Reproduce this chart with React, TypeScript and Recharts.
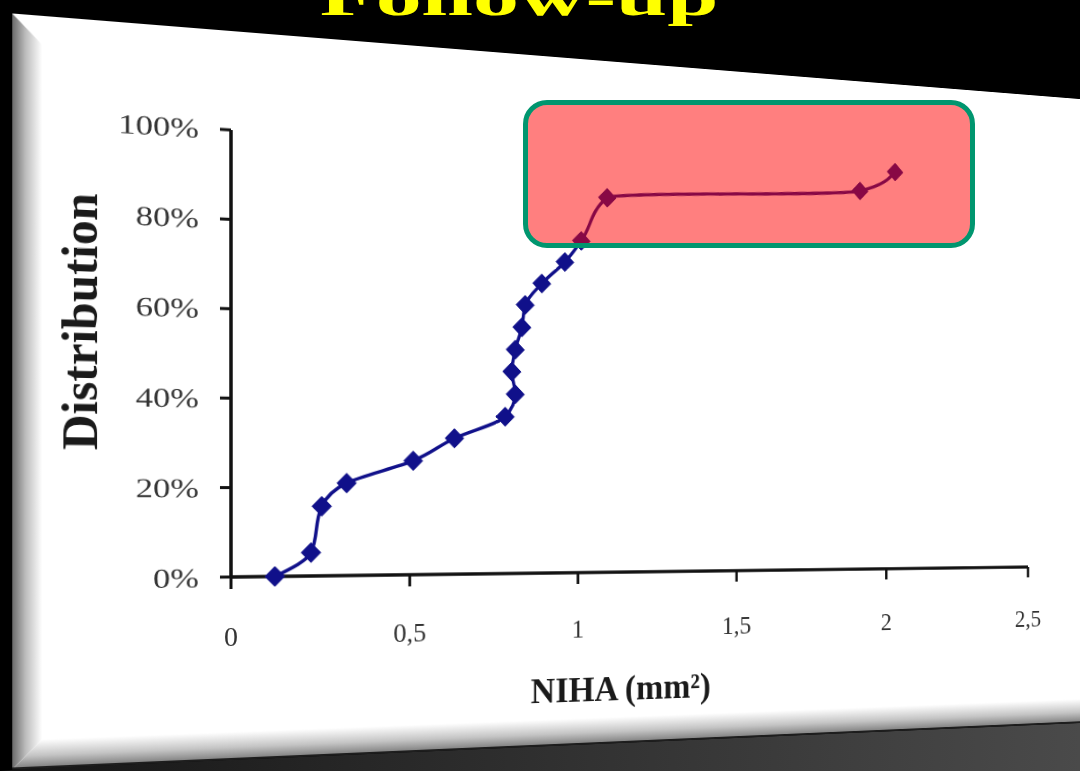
import React from 'react';
import { LineChart, Line, XAxis, YAxis, Label } from 'recharts';

// ---------- data ----------
const nihaValues = [0.12, 0.22, 0.25, 0.32, 0.51, 0.63, 0.78, 0.81, 0.8, 0.81, 0.83, 0.84, 0.89, 0.96, 1.01, 1.09, 1.91, 2.03];
const distributionValues = [0, 5.3, 15.8, 21.1, 26.3, 31.6, 36.8, 42.1, 47.4, 52.6, 57.9, 63.2, 68.4, 73.7, 78.9, 89.5, 94.7, 100];
const xTicks = [0, 0.5, 1, 1.5, 2, 2.5];
const xTickLabels = ['0', '0,5', '1', '1,5', '2', '2,5'];
const yTicks = [0, 20, 40, 60, 80, 100];
const yTickLabels = ['0%', '20%', '40%', '60%', '80%', '100%'];
const slideTitle = 'Follow-up';
const xAxisTitle = 'NIHA (mm²)';
const yAxisTitle = 'Distribution';

const data = nihaValues.map((x, i) => ({ niha: x, dist: distributionValues[i] }));

// ---------- layout / style ----------
const SERIF = "'Liberation Serif', 'Times New Roman', serif";
const NAVY = '#10108a';
const AXIS = '#111';
const SCREEN_W = 1080;
const SCREEN_H = 771;
const FLAT_W = 1340;
const FLAT_H = 800;
const CHART_W = 1200;
const CHART_H = 771;
const MARGIN = { top: 130, right: 47, bottom: 0, left: 0 };
const PLOT_L = MARGIN.left + 231;
const PLOT_T = MARGIN.top;
const PLOT_R = CHART_W - MARGIN.right;
const PLOT_B = 577;
// where the plot corners sit on the tilted slide (perspective calibration)
const SCREEN_CORNERS = [
  [231, 130],
  [1028, 180.5],
  [231, 577],
  [1028, 567],
];

function solveLinear(A: number[][], b: number[]): number[] {
  const n = b.length;
  const M = A.map((r, i) => [...r, b[i]]);
  for (let c = 0; c < n; c++) {
    let p = c;
    for (let r = c + 1; r < n; r++) if (Math.abs(M[r][c]) > Math.abs(M[p][c])) p = r;
    const tmp = M[c];
    M[c] = M[p];
    M[p] = tmp;
    for (let r = 0; r < n; r++) {
      if (r === c) continue;
      const f = M[r][c] / M[c][c];
      for (let k = c; k <= n; k++) M[r][k] -= f * M[c][k];
    }
  }
  return M.map((r, i) => r[n] / r[i]);
}

function homographyMatrix3d(src: number[][], dst: number[][]): string {
  const A: number[][] = [];
  const B: number[] = [];
  for (let i = 0; i < 4; i++) {
    const [x, y] = src[i];
    const [u, v] = dst[i];
    A.push([x, y, 1, 0, 0, 0, -u * x, -u * y]);
    B.push(u);
    A.push([0, 0, 0, x, y, 1, -v * x, -v * y]);
    B.push(v);
  }
  const [a, b, c, d, e, f, g, h] = solveLinear(A, B);
  return `matrix3d(${a},${d},0,${g},${b},${e},0,${h},0,0,1,0,${c},${f},0,1)`;
}

const FLAT_CORNERS = [
  [PLOT_L, PLOT_T],
  [PLOT_R, PLOT_T],
  [PLOT_L, PLOT_B],
  [PLOT_R, PLOT_B],
];
const SLIDE_TRANSFORM = homographyMatrix3d(FLAT_CORNERS, SCREEN_CORNERS);

const XTick = (props: any) => {
  const { x, y, payload } = props;
  const i = xTicks.indexOf(payload.value);
  return (
    <text x={x} y={y} dy="0.71em" textAnchor="middle" fontSize={28} fill="#333" fontFamily={SERIF}>
      {i >= 0 ? xTickLabels[i] : String(payload.value)}
    </text>
  );
};

const YTick = (props: any) => {
  const { x, y, payload } = props;
  const i = yTicks.indexOf(payload.value);
  return (
    <g transform={`translate(${x},${y}) scale(1.25,1)`}>
      <text x={0} y={0} dy="0.36em" textAnchor="end" fontSize={27} fill="#333" fontFamily={SERIF}>
        {i >= 0 ? yTickLabels[i] : String(payload.value)}
      </text>
    </g>
  );
};

const renderDot = (p: any) => {
  const { cx, cy, index } = p;
  if (cx == null || cy == null) return <g key={`dot-${index}`} />;
  const r = 10;
  return (
    <polygon
      key={`dot-${index}`}
      points={`${cx},${cy - r} ${cx + r},${cy} ${cx},${cy + r} ${cx - r},${cy}`}
      fill={NAVY}
      stroke={NAVY}
      strokeWidth={1}
    />
  );
};

const XTitle = (p: any) => {
  const vb = p.viewBox || {};
  return (
    <text
      x={vb.x + vb.width * 0.4545}
      y={vb.y + 137}
      textAnchor="middle"
      fontSize={38}
      fontWeight="bold"
      fill="#1a1a1a"
      fontFamily={SERIF}
    >
      {xAxisTitle}
    </text>
  );
};

const YTitle = (p: any) => {
  const vb = p.viewBox || {};
  const cx = vb.x + 100;
  const cy = vb.y + 196;
  return (
    <text
      transform={`translate(${cx},${cy}) rotate(-90)`}
      x={0}
      y={0}
      textAnchor="middle"
      fontSize={48}
      fontWeight="bold"
      fill="#1a1a1a"
      fontFamily={SERIF}
    >
      {yAxisTitle}
    </text>
  );
};

export default function App() {
  return (
    <div
      style={{
        position: 'absolute',
        left: 0,
        top: 0,
        width: SCREEN_W,
        height: SCREEN_H,
        overflow: 'hidden',
        background: '#000',
      }}
    >
      {/* background: floor + title */}
      <svg width={SCREEN_W} height={SCREEN_H} style={{ position: 'absolute', left: 0, top: 0 }}>
        <defs>
          <linearGradient id="floorGrad" x1="0" y1="0" x2="1" y2="0">
            <stop offset="0%" stopColor="#151515" />
            <stop offset="100%" stopColor="#4a4a4a" />
          </linearGradient>
        </defs>
        <rect x={0} y={0} width={SCREEN_W} height={SCREEN_H} fill="#000" />
        <polygon points="0,771 22,769 1080,723 1080,771" fill="url(#floorGrad)" />
        <text
          transform="translate(519,15) scale(1.15,0.65)"
          x={0}
          y={0}
          textAnchor="middle"
          fontSize={80}
          fontWeight="bold"
          fill="#ffff00"
          fontFamily={SERIF}
        >
          {slideTitle}
        </text>
      </svg>

      {/* tilted slide with the chart */}
      <div
        style={{
          position: 'absolute',
          left: 0,
          top: 0,
          width: FLAT_W,
          height: FLAT_H,
          transformOrigin: '0 0',
          transform: SLIDE_TRANSFORM,
        }}
      >
        <div
          style={{
            position: 'absolute',
            left: 20,
            top: 31,
            width: 1300,
            height: 729,
            background: '#fff',
          }}
        >
          <div
            style={{
              position: 'absolute',
              left: 0,
              top: 0,
              width: 28,
              height: '100%',
              background: 'linear-gradient(to right, #6a6a6a, #bdbdbd 45%, #ffffff)',
              clipPath: 'polygon(0 0, 100% 28px, 100% calc(100% - 28px), 0 100%)',
            }}
          />
          <div
            style={{
              position: 'absolute',
              left: 0,
              bottom: 0,
              width: '100%',
              height: 28,
              background: 'linear-gradient(to bottom, #ffffff, #c4c4c4 55%, #7a7a7a)',
              clipPath: 'polygon(0 100%, 28px 0, 100% 0, 100% 100%)',
            }}
          />
          <div
            style={{
              position: 'absolute',
              left: 0,
              bottom: 0,
              width: '100%',
              height: 2,
              background: '#1e1e1e',
            }}
          />
        </div>
        <div style={{ position: 'absolute', left: 0, top: 0 }}>
          <LineChart width={CHART_W} height={CHART_H} data={data} margin={MARGIN}>
            <XAxis
              type="number"
              dataKey="niha"
              domain={[0, 2.5]}
              ticks={xTicks}
              interval={0}
              height={194}
              tickSize={12}
              tickMargin={37}
              tick={XTick}
              axisLine={{ stroke: AXIS, strokeWidth: 3.5 }}
              tickLine={{ stroke: AXIS, strokeWidth: 3 }}
            >
              <Label content={XTitle} />
            </XAxis>
            <YAxis
              type="number"
              dataKey="dist"
              domain={[0, 100]}
              ticks={yTicks}
              interval={0}
              width={231}
              tickSize={11}
              tickMargin={21}
              tick={YTick}
              axisLine={{ stroke: AXIS, strokeWidth: 3.5 }}
              tickLine={{ stroke: AXIS, strokeWidth: 3 }}
            >
              <Label content={YTitle} />
            </YAxis>
            <Line
              type="monotoneY"
              dataKey="dist"
              stroke={NAVY}
              strokeWidth={3.5}
              dot={renderDot}
              activeDot={false}
              isAnimationActive={false}
            />
          </LineChart>
        </div>
      </div>

      {/* highlight box */}
      <div
        style={{
          position: 'absolute',
          left: 523,
          top: 100,
          width: 452,
          height: 148,
          boxSizing: 'border-box',
          border: '5px solid #00966f',
          borderRadius: 24,
          background: 'rgba(255,0,0,0.5)',
        }}
      />
    </div>
  );
}
